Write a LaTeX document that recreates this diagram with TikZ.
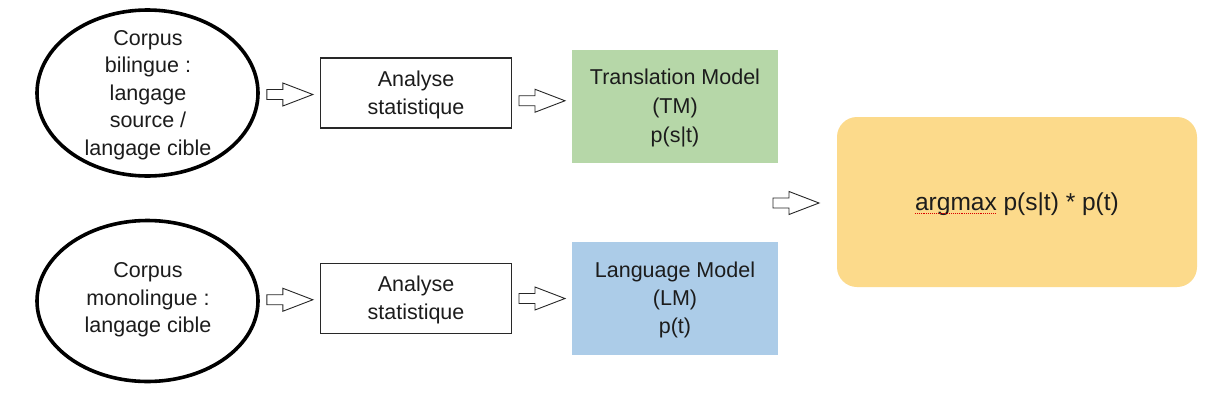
\documentclass[tikz,border=0pt]{standalone}
\usepackage{fontspec}
\setmainfont{Liberation Sans}
\usetikzlibrary{shapes.geometric,calc}
\definecolor{tmgreen}{RGB}{182,215,168}
\definecolor{lmblue}{RGB}{172,204,232}
\definecolor{amyellow}{RGB}{252,218,139}
\definecolor{txt}{RGB}{28,28,28}
\definecolor{boxline}{RGB}{40,40,40}
\tikzset{
  corpus/.style={ellipse, draw=black, line width=3.6pt, minimum width=221pt, inner sep=0pt},
  label/.style={align=center, text=txt, inner sep=0pt, font=\fontsize{21.5}{27.5}\selectfont},
  stats/.style={draw=boxline, line width=1.2pt, minimum width=191pt, minimum height=70pt, inner sep=0pt},
  model/.style={minimum width=206pt, minimum height=113pt, inner sep=0pt},
  result/.style={fill=amyellow, rounded corners=20pt, minimum width=360pt, minimum height=170pt, inner sep=0pt},
  blockarrow/.pic={\draw[line width=0.9pt, draw=black!85, fill=white, line join=miter]
     (-23,-5) -- (-7,-5) -- (-7,-11.5) -- (23,0) -- (-7,11.5) -- (-7,5) -- (-23,5) -- cycle;}
}
\begin{document}
\begin{tikzpicture}[x=1pt, y=-1pt]
\useasboundingbox[fill=white] (0,0) rectangle (1224,402);

% corpus ellipses
\node[corpus, minimum height=166pt] (c1) at (147.5,93) {};
\node[label] (c1t) at (148,95) {Corpus\\bilingue :\\langage\\source /\\langage cible};
\node[corpus, minimum height=161pt] (c2) at (147.5,301) {};
\node[label] (c2t) at (148,300) {Corpus\\monolingue :\\langage cible};

% analysis boxes
\node[stats] (a1) at (416,93) {};
\node[label] (a1t) at (416,95) {Analyse\\statistique};
\node[stats] (a2) at (416,298.5) {};
\node[label] (a2t) at (416,300) {Analyse\\statistique};

% models
\node[model, fill=tmgreen] (tm) at (675,106.5) {};
\node[label, font=\fontsize{21.5}{29}\selectfont] (tmt) at (675,108) {Translation Model\\(TM)\\p(s|t)};
\node[model, fill=lmblue] (lm) at (675,298.5) {};
\node[label, font=\fontsize{21.5}{28}\selectfont] (lmt) at (675,300) {Language Model\\(LM)\\p(t)};

% result
\node[result] (res) at (1017,202) {};
\node[label, font=\fontsize{24.5}{29}\selectfont] (rest) at (1017,204) {argmax p(s|t) * p(t)};
\draw[red!85!black, densely dotted, line width=0.9pt]
  ($(rest.base west)+(0,3.5)$) -- ++(80,0);

% block arrows
\pic at ($(c1.east)!0.5!(a1.west)+(0,1.5)$) {blockarrow};
\pic at ($(a1.east)!0.5!(tm.west)+(0,1)$) {blockarrow};
\pic at ($(c2.east)!0.5!(a2.west)$) {blockarrow};
\pic at ($(a2.east)!0.5!(lm.west)$) {blockarrow};
\pic at (796,203) {blockarrow};
\end{tikzpicture}
\end{document}
